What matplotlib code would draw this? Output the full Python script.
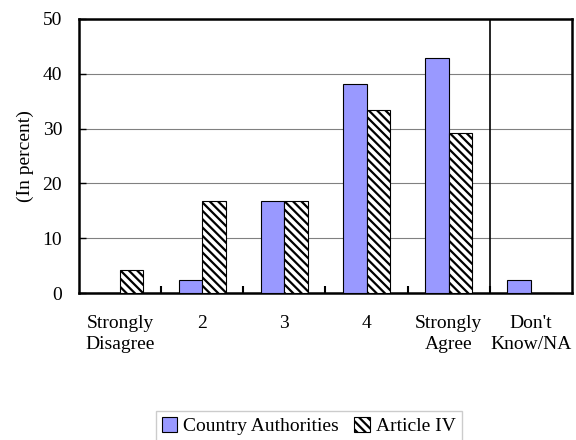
import numpy as np
import matplotlib.pyplot as plt

plt.rcParams['font.family'] = ['Liberation Serif', 'DejaVu Serif']
plt.rcParams['hatch.linewidth'] = 1.6

categories = ['Strongly\nDisagree', '2', '3', '4', 'Strongly\nAgree', "Don't\nKnow/NA"]
country_auth = [0.0, 2.4, 16.7, 38.1, 42.9, 2.4]
article_iv = [4.2, 16.7, 16.7, 33.3, 29.2, 0.0]

x = np.arange(len(categories))
w = 0.285
fs = 14

fig = plt.figure(figsize=(5.76, 4.4), dpi=100)
ax = fig.add_axes([0.137, 0.334, 0.856, 0.623])

ax.bar(x - w / 2, country_auth, w, color='#9999ff', edgecolor='black',
       linewidth=0.8, label='Country Authorities', zorder=3)
ax.bar(x + w / 2, article_iv, w, color='white', edgecolor='black',
       hatch='\\\\\\\\', linewidth=0.8, label='Article IV', zorder=3)

ax.set_xlim(-0.5, len(categories) - 0.5)
ax.set_ylim(0, 50)
ax.set_yticks(range(0, 51, 10))
ax.yaxis.grid(True, color='#808080', linewidth=0.8, zorder=0)
ax.axvline(4.5, color='black', linewidth=1.2, zorder=4)

ax.set_xticks(x)
ax.set_xticklabels(categories, fontsize=fs, linespacing=1.3)
ax.tick_params(axis='x', length=0, pad=16)
ax.set_xticks(x[:-1] + 0.5, minor=True)
ax.tick_params(axis='x', which='minor', direction='in', length=5, width=1.5)
ax.tick_params(axis='y', direction='in', length=5, labelsize=fs, width=1, pad=12)
for s in ax.spines.values():
    s.set_linewidth(1.8)

ax.set_ylabel('(In percent)', fontsize=fs, labelpad=6)

fig.legend(loc='upper center', bbox_to_anchor=(0.536, 0.066), ncol=2, fontsize=fs,
           frameon=True, fancybox=False, edgecolor='#c0c0c0',
           handlelength=0.8, handleheight=0.8, handletextpad=0.3,
           columnspacing=0.8, borderpad=0.3, borderaxespad=0)

fig.savefig('out.png', dpi=100)
